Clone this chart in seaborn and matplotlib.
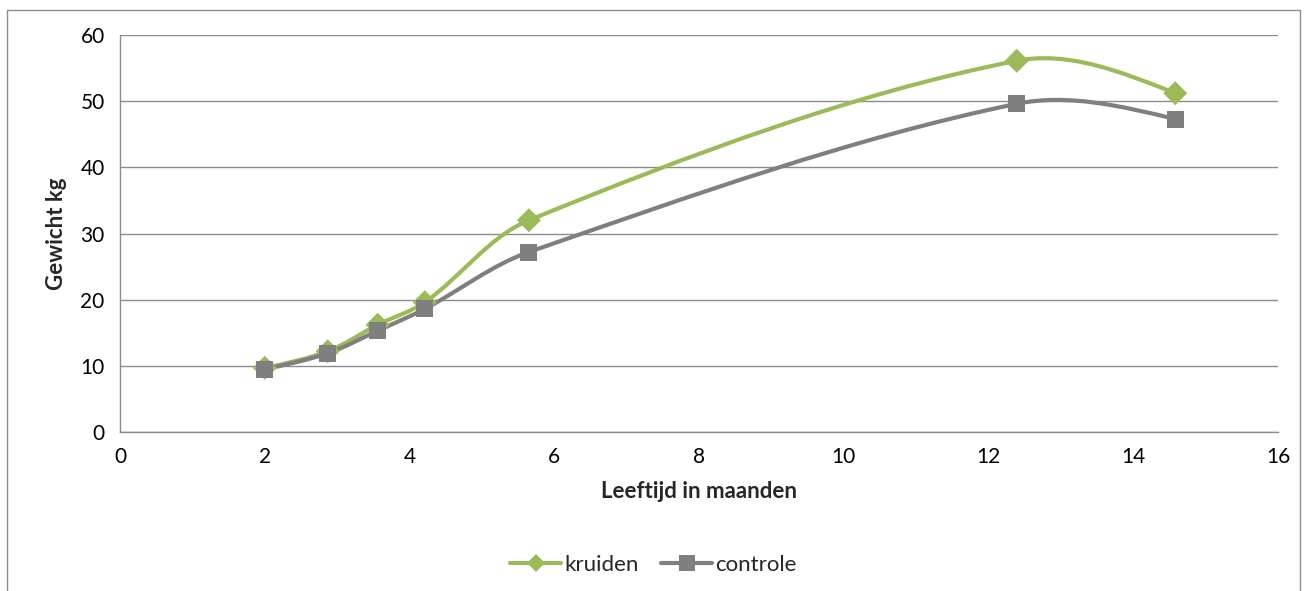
import numpy as np
import pandas as pd
import matplotlib
matplotlib.use("Agg")
import matplotlib.pyplot as plt
from matplotlib.path import Path
from matplotlib.patches import PathPatch, Rectangle
from matplotlib.lines import Line2D
import seaborn as sns

# data
leeftijd = [2.0, 2.87, 3.56, 4.21, 5.65, 12.39, 14.58]
kruiden = [9.7, 12.2, 16.2, 19.6, 32.0, 56.1, 51.2]
controle = [9.5, 11.9, 15.3, 18.6, 27.2, 49.6, 47.3]

series_names = ["kruiden", "controle"]
colors = {"kruiden": "#9BBB59", "controle": "#7F7F7F"}
markers = {"kruiden": "D", "controle": "s"}

df = pd.DataFrame({"leeftijd": leeftijd * 2,
                   "gewicht": kruiden + controle,
                   "groep": ["kruiden"] * len(kruiden) + ["controle"] * len(controle)})

sns.set_style("white")
plt.rcParams["font.family"] = ["Lato", "DejaVu Sans"]


def smooth_path(ax, xs, ys):
    # smoothed line like Excel: bezier segments, tangents weighted by segment length
    # (computed in pixel space so the shape does not depend on the axis units)
    pts = ax.transData.transform(np.column_stack([xs, ys]))
    n = len(pts)
    seg = np.linalg.norm(np.diff(pts, axis=0), axis=1)
    outs, ins = [], []
    for i in range(n):
        if i == 0 or i == n - 1:
            outs.append(pts[i])
            ins.append(pts[i])
            continue
        t = pts[i + 1] - pts[i - 1]
        d0, d1 = seg[i - 1], seg[i]
        outs.append(pts[i] + t * d1 / (d0 + d1) / 3.0)
        ins.append(pts[i] - t * d0 / (d0 + d1) / 3.0)
    verts = [pts[0]]
    codes = [Path.MOVETO]
    for i in range(n - 1):
        c1 = outs[i] if i > 0 else pts[0] + (ins[1] - pts[0]) / 2.0
        c2 = ins[i + 1] if i + 1 < n - 1 else pts[-1] + (outs[-2] - pts[-1]) / 2.0
        verts += [c1, c2, pts[i + 1]]
        codes += [Path.CURVE4] * 3
    inv = ax.transData.inverted()
    return Path(inv.transform(np.array(verts)), codes)


fig = plt.figure(figsize=(13.07, 5.91), dpi=100)
ax = fig.add_axes([120 / 1307, 159 / 591, 1158 / 1307, 397 / 591])
ax.set_xlim(0, 16)
ax.set_ylim(0, 60)

for name in series_names:
    sub = df[df["groep"] == name]
    ax.add_patch(PathPatch(smooth_path(ax, sub["leeftijd"].values, sub["gewicht"].values),
                           facecolor="none", edgecolor=colors[name], lw=3.0,
                           capstyle="round", zorder=3))

sns.scatterplot(data=df, x="leeftijd", y="gewicht", hue="groep", style="groep",
                palette=colors, markers=markers, s=150, edgecolor="none",
                legend=False, ax=ax, zorder=4)

ax.set_xlim(0, 16)
ax.set_ylim(0, 60)
ax.set_xticks(range(0, 17, 2))
ax.set_yticks(range(0, 61, 10))
ax.grid(axis="y", color="#8C8C8C", lw=1.0)
ax.grid(axis="x", visible=False)
ax.set_axisbelow(True)
for side in ["top", "right"]:
    ax.spines[side].set_visible(False)
for side in ["left", "bottom"]:
    ax.spines[side].set_color("#8C8C8C")
    ax.spines[side].set_linewidth(1.0)
ax.tick_params(axis="both", direction="out", length=6, width=1.0, color="#8C8C8C",
               labelsize=15, labelcolor="black", pad=5)

ax.set_xlabel("Leeftijd in maanden", fontsize=16, fontweight="bold", labelpad=10)
ax.set_ylabel("Gewicht kg", fontsize=16, fontweight="bold", labelpad=10)

handles = [Line2D([], [], color=colors[n], lw=3.0, marker=markers[n],
                  markersize=9 if n == "kruiden" else 11, markeredgewidth=0)
           for n in series_names]
fig.legend(handles, series_names, loc="center", bbox_to_anchor=(0.5, 26 / 591),
           ncol=2, frameon=False, fontsize=16, handlelength=2.3, handletextpad=0.15,
           columnspacing=1.0)

fig.patches.append(Rectangle((7 / 1307, -0.1), 1293 / 1307, 1.1 - 10 / 591,
                             transform=fig.transFigure, fill=False,
                             edgecolor="#8C8C8C", lw=1.0))

fig.savefig("out.png", dpi=100)
